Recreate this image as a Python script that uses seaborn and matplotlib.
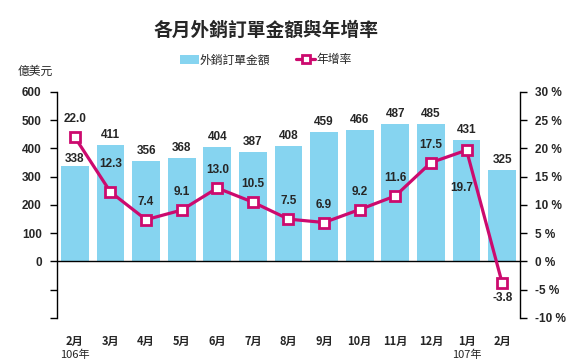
import numpy as np
import pandas as pd
import seaborn as sns
import matplotlib.pyplot as plt
from matplotlib.patches import Patch
from matplotlib.lines import Line2D
import matplotlib.transforms as mtransforms

# data
months = ['2月', '3月', '4月', '5月', '6月', '7月', '8月', '9月', '10月', '11月', '12月', '1月', '2月']
orders = [338, 411, 356, 368, 404, 387, 408, 459, 466, 487, 485, 431, 325]
growth = [22.0, 12.3, 7.4, 9.1, 13.0, 10.5, 7.5, 6.9, 9.2, 11.6, 17.5, 19.7, -3.8]
years = {0: '106年', 11: '107年'}

bar_color = '#86D4F0'
line_color = '#CC0A6E'
cjk = ['Noto Sans CJK TC', 'DejaVu Sans']
num = ['Liberation Sans Narrow', 'Liberation Sans', 'DejaVu Sans']

sns.set_style('white')
plt.rcParams['font.family'] = cjk

df = pd.DataFrame({'pos': np.arange(len(months)), 'orders': orders, 'growth': growth})

fig = plt.figure(figsize=(5.68, 3.63), dpi=100)
ax = fig.add_axes([0.1004, 0.124, 0.815, 0.6226])

sns.barplot(x='pos', y='orders', data=df, color=bar_color, width=0.78,
            saturation=1, ax=ax, edgecolor='none')
ax.set_xlim(-0.5, len(months) - 0.5)
ax.set_ylim(-200, 600)
ax.axhline(0, color='black', lw=1, zorder=3)

ax.set_yticks(np.arange(-200, 601, 100))
ax.set_yticklabels(['' if v < 0 else str(v) for v in range(-200, 601, 100)],
                   fontfamily=num, fontweight='bold', fontsize=8.5)
ax.tick_params(axis='y', direction='out', length=5, width=1, color='black', pad=6, left=True)
ax.set_xticks(df['pos'])
ax.set_xticklabels(months, fontweight='bold', fontsize=8)
ax.tick_params(axis='x', length=0, pad=12)
ax.set_xlabel('')
ax.set_ylabel('')
for s in ['top', 'bottom', 'right']:
    ax.spines[s].set_visible(False)
ax.spines['left'].set_color('black')
ax.spines['left'].set_linewidth(1)

for x, v in zip(df['pos'], orders):
    off = 1 if x == 0 else 4
    ax.annotate(str(v), (x, v), xytext=(0, off), textcoords='offset pixels',
                ha='center', va='bottom', fontfamily=num, fontweight='bold', fontsize=8.5)

ax2 = ax.twinx()
sns.lineplot(x='pos', y='growth', data=df, ax=ax2, color=line_color, lw=2.3,
             marker='s', markersize=7.5, markerfacecolor='white',
             markeredgecolor=line_color, markeredgewidth=2)
ax2.set_ylim(-10, 30)
ax2.set_yticks(np.arange(-10, 31, 5))
ax2.set_yticklabels([f'{v} %' for v in range(-10, 31, 5)],
                    fontfamily=num, fontweight='bold', fontsize=8.5)
ax2.tick_params(axis='y', direction='out', length=5, width=1, color='black', pad=6, right=True)
ax2.set_xlabel('')
ax2.set_ylabel('')
for s in ['top', 'bottom', 'left']:
    ax2.spines[s].set_visible(False)
ax2.spines['right'].set_color('black')
ax2.spines['right'].set_linewidth(1)

offsets = {1: (0, 28), 11: (-5, -38), 12: (0, -15)}
for x, v in zip(df['pos'], growth):
    dx, dy = offsets.get(x, (0, 18))
    ax2.annotate(f'{v:.1f}', (x, v), xytext=(dx, dy), textcoords='offset pixels',
                 ha='center', va='center', fontfamily=num, fontweight='bold', fontsize=8.5)

trans = mtransforms.blended_transform_factory(ax.transData, fig.transFigure)
for x, t in years.items():
    fig.text(x, 1 - 355 / 363, t, transform=trans, ha='center', va='center', fontsize=8)

fig.text(0.468, 0.917, '各月外銷訂單金額與年增率', ha='center', va='center',
         fontsize=13.5, fontweight='bold')
fig.text(0.062, 1 - 71 / 363, '億美元', ha='center', va='center', fontsize=8.5)

handles = [Patch(facecolor=bar_color, edgecolor='none'),
           Line2D([], [], color=line_color, lw=2.3, marker='s', markersize=6,
                  markerfacecolor='white', markeredgecolor=line_color, markeredgewidth=2)]
fig.legend(handles, ['外銷訂單金額', '年增率'], loc='center', ncol=2,
           bbox_to_anchor=(0.468, 1 - 60 / 363), frameon=False, fontsize=8.5,
           handlelength=1.6, handletextpad=0.1, columnspacing=2.2)

fig.savefig('out.png', dpi=100)
